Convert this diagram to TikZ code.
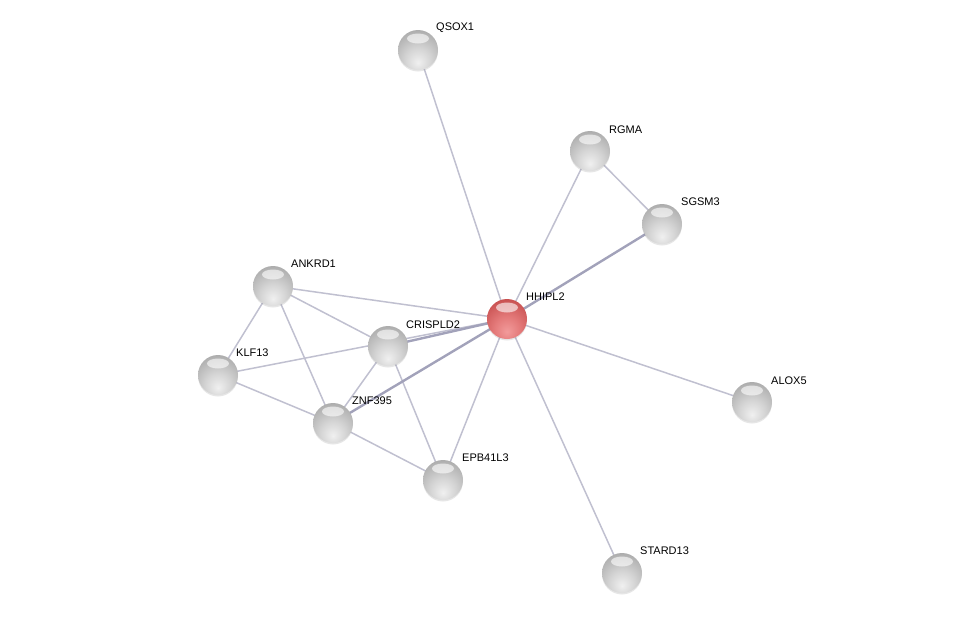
\documentclass[tikz,border=0pt]{standalone}
\usepackage{fontspec}
\setmainfont{Liberation Sans}
\usetikzlibrary{shadows,backgrounds}
\definecolor{g0}{RGB}{240,240,240}
\definecolor{g1}{RGB}{212,212,212}
\definecolor{g2}{RGB}{172,172,172}
\definecolor{g3}{RGB}{130,130,130}
\definecolor{g4}{RGB}{95,95,95}
\definecolor{r0}{RGB}{242,155,155}
\definecolor{r1}{RGB}{228,122,122}
\definecolor{r2}{RGB}{200,80,80}
\definecolor{r3}{RGB}{160,45,45}
\definecolor{r4}{RGB}{115,25,25}
\pgfdeclareradialshading{sphgray}{\pgfpoint{0bp}{-16bp}}{color(0bp)=(g0); color(16bp)=(g1); color(36bp)=(g2); color(54bp)=(g3); color(66bp)=(g4); color(100bp)=(g4)}
\pgfdeclareradialshading{sphred}{\pgfpoint{0bp}{-16bp}}{color(0bp)=(r0); color(16bp)=(r1); color(36bp)=(r2); color(54bp)=(r3); color(66bp)=(r4); color(100bp)=(r4)}
\definecolor{edgec}{RGB}{192,192,208}
\definecolor{edgeb}{RGB}{162,162,186}
\tikzset{
  prot/.style={circle, minimum size=40pt, inner sep=0pt, shading=sphgray,
    drop shadow={opacity=0.2, shadow xshift=0pt, shadow yshift=-1.5pt},
    path picture={\fill[white, opacity=0.6] ([yshift=-8.5pt]path picture bounding box.north) ellipse (11pt and 5pt);}},
  hub/.style={prot, shading=sphred},
  lab/.style={anchor=west, inner sep=0pt, font=\fontsize{11}{13}\selectfont},
  edge/.style={draw=edgec, line width=1.5pt},
  bedge/.style={draw=edgeb, line width=2.4pt}
}
\begin{document}
\begin{tikzpicture}[x=1pt,y=-1pt]
\useasboundingbox (0,0) rectangle (975,619);
\node[prot] (qsox) at (418,50) {};
\node[prot] (rgma) at (590,151) {};
\node[prot] (sgsm) at (662,224) {};
\node[prot] (ankrd) at (273,286) {};
\node[hub] (hhipl) at (507,319) {};
\node[prot] (crispld) at (388,346) {};
\node[prot] (klf) at (218,375) {};
\node[prot] (alox) at (752,402) {};
\node[prot] (znf) at (333,423) {};
\node[prot] (epb) at (443,480) {};
\node[prot] (stard) at (622,573) {};

\node[lab] (lqsox) at (436,28) {QSOX1};
\node[lab] (lrgma) at (609,130) {RGMA};
\node[lab] (lsgsm) at (681,202) {SGSM3};
\node[lab] (lankrd) at (291,264) {ANKRD1};
\node[lab] (lhhipl) at (526,297) {HHIPL2};
\node[lab] (lcrispld) at (406,325) {CRISPLD2};
\node[lab] (lklf) at (236,353) {KLF13};
\node[lab] (lalox) at (771,381) {ALOX5};
\node[lab] (lznf) at (352,401) {ZNF395};
\node[lab] (lepb) at (462,458) {EPB41L3};
\node[lab] (lstard) at (640,551) {STARD13};

\begin{pgfonlayer}{background}
\draw[edge] (qsox.center) -- (hhipl.center);
\draw[edge] (rgma.center) -- (hhipl.center);
\draw[edge] (rgma.center) -- (sgsm.center);
\draw[bedge] (sgsm.center) -- (hhipl.center);
\draw[edge] (ankrd.center) -- (hhipl.center);
\draw[edge] (ankrd.center) -- (crispld.center);
\draw[edge] (ankrd.center) -- (klf.center);
\draw[edge] (ankrd.center) -- (znf.center);
\draw[edge] (klf.center) -- (hhipl.center);
\draw[edge] (klf.center) -- (znf.center);
\draw[bedge] (crispld.center) -- (hhipl.center);
\draw[edge] (crispld.center) -- (znf.center);
\draw[edge] (crispld.center) -- (epb.center);
\draw[bedge] (znf.center) -- (hhipl.center);
\draw[edge] (znf.center) -- (epb.center);
\draw[edge] (epb.center) -- (hhipl.center);
\draw[edge] (hhipl.center) -- (alox.center);
\draw[edge] (hhipl.center) -- (stard.center);
\end{pgfonlayer}
\end{tikzpicture}
\end{document}
